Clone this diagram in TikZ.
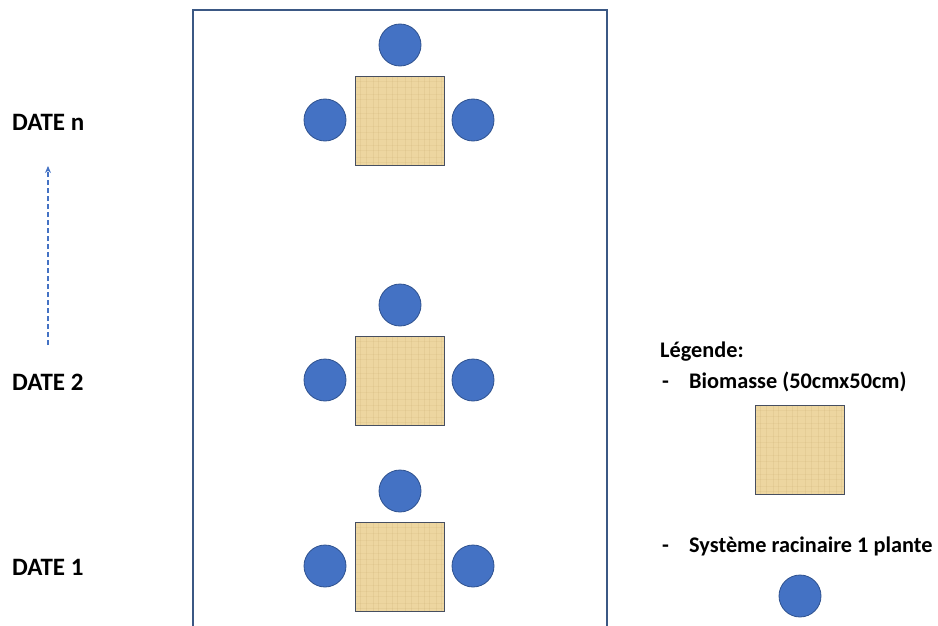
\documentclass[tikz,border=0pt]{standalone}
\usepackage{fontspec}
\setmainfont{Carlito}
\usetikzlibrary{arrows.meta}
\definecolor{rootblue}{RGB}{68,114,196}
\definecolor{rootedge}{RGB}{47,82,143}
\definecolor{frameblue}{RGB}{59,88,132}
\definecolor{paper}{RGB}{237,214,160}
\definecolor{paperedge}{RGB}{70,78,96}
\definecolor{grain}{RGB}{196,166,106}
\tikzset{
  root/.style={circle, fill=rootblue, draw=rootedge, line width=0.8pt, minimum size=42pt, inner sep=0pt},
  quadrat/.style={rectangle, fill=paper, draw=paperedge, line width=1.3pt, minimum size=89pt, inner sep=0pt,
    path picture={
      \foreach \k in {5,11,18,23,31,37,42,50,56,63,69,74,81,86}{
        \draw[grain, opacity=0.18, line width=0.6pt]
          ([xshift=\k pt]path picture bounding box.north west) -- ([xshift=\k pt]path picture bounding box.south west);
        \draw[grain, opacity=0.14, line width=0.6pt]
          ([yshift=-\k pt]path picture bounding box.north west) -- ([yshift=-\k pt]path picture bounding box.north east);
      }
    }},
  datelabel/.style={font=\bfseries\fontsize{25}{30}\selectfont, anchor=base west, inner sep=0pt},
  legtext/.style={font=\bfseries\fontsize{22.3}{27}\selectfont, anchor=base west, inner sep=0pt},
  frame/.style={draw=frameblue, line width=2.6pt}
}
\begin{document}
\begin{tikzpicture}[x=1pt, y=-1pt]
\useasboundingbox (0,0) rectangle (938,626);
% plot boundary, open at the bottom
\draw[frame] (193,626) -- (193,10) -- (607,10) -- (607,626);

% sampling layout for each date: one quadrat and three root systems
\foreach \name/\y in {n/76, b/336, a/522}{
  \node[quadrat] (q\name) at (400,\y+45) {};
  \node[root] (t\name) at (400,\y-31) {};
  \node[root] (l\name) at (325,\y+44) {};
  \node[root] (r\name) at (473,\y+44) {};
}

% dates
\node[datelabel] (daten) at (12,131) {DATE n};
\node[datelabel] (date2) at (12,390) {DATE 2};
\node[datelabel] (date1) at (12,575) {DATE 1};

% time arrow
\coordinate (tstart) at (48,345);
\coordinate (tend) at (48,166);
\draw[rootblue, line width=1.2pt, dash pattern=on 5pt off 3pt, -{Stealth[length=7pt,width=6pt]}] (tstart) -- (tend);

% legend
\node[legtext] (legtitle) at (660,357) {Légende:};
\node[legtext] (dash1) at (662,388) {-};
\node[legtext] (leg1) at (689,388) {Biomasse (50cmx50cm)};
\node[quadrat] (legq) at (800,450) {};
\node[legtext] (dash2) at (662,552) {-};
\node[legtext] (leg2) at (689,552) {Système racinaire 1 plante};
\node[root] (legr) at (800,596) {};
\end{tikzpicture}
\end{document}
